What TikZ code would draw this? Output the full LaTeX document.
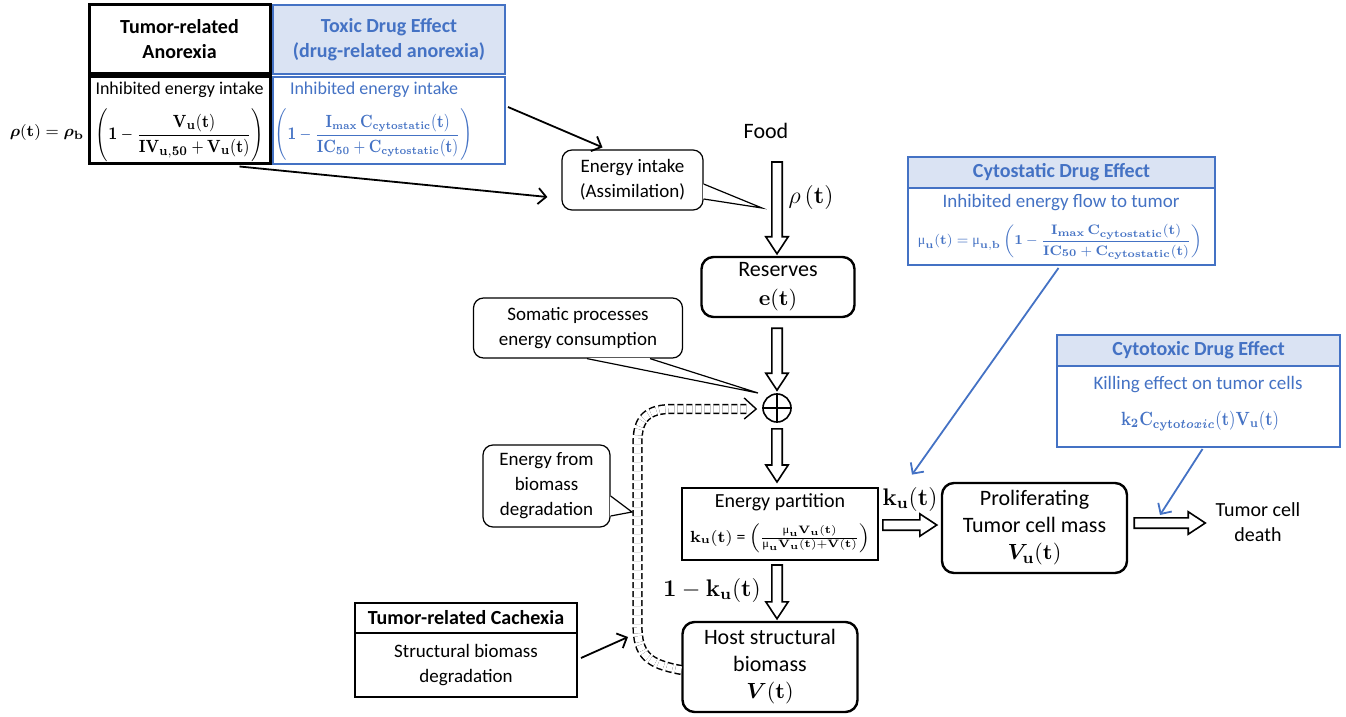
\documentclass[tikz,border=0pt]{standalone}
\usepackage{amsmath}
\usepackage{bm}
\usepackage{graphicx}
\usepackage[no-math]{fontspec}
\setmainfont{Carlito}
\newfontfamily\grk{Liberation Serif}
\usetikzlibrary{calc,arrows.meta}
\definecolor{ublue}{HTML}{4472C4}
\definecolor{hblue}{HTML}{DAE3F3}
\newcommand{\mymu}{\text{\grk μ}}
\begin{document}
\begin{tikzpicture}[x=0.5pt,y=-0.5pt,
  fs/.style={font=\fontsize{9}{12.5}\selectfont},
  fl/.style={font=\fontsize{11}{13.5}\selectfont},
  box/.style={draw, fill=white, inner sep=0pt, align=center},
  hdr/.style={box, font=\bfseries\fontsize{10}{12.5}\selectfont},
  bhdr/.style={hdr, draw=ublue, fill=hblue, text=ublue, line width=1pt},
  bbody/.style={box, draw=ublue, line width=1pt},
  bigbox/.style={box, rounded corners=6pt, line width=1.2pt, fl},
  callbox/.style={box, rounded corners=5pt, line width=0.6pt, font=\fontsize{9.5}{12.5}\selectfont},
  lbl/.style={inner sep=0pt, align=center},
  thinarrow/.style={line width=0.9pt, -{Straight Barb[length=4pt,width=8pt]}},
  bluearrow/.style={thinarrow, draw=ublue},
  blockarrow/.style={draw, fill=white, line width=0.8pt, line join=miter, to path={
    ($(\tikztostart)!2.6pt!90:(\tikztotarget)$)
    -- ($ ($(\tikztotarget)!8.5pt!(\tikztostart)$) !2.6pt!-90:(\tikztostart) $)
    -- ($ ($(\tikztotarget)!8.5pt!(\tikztostart)$) !5.6pt!-90:(\tikztostart) $)
    -- (\tikztotarget)
    -- ($ ($(\tikztotarget)!8.5pt!(\tikztostart)$) !5.6pt!90:(\tikztostart) $)
    -- ($ ($(\tikztotarget)!8.5pt!(\tikztostart)$) !2.6pt!90:(\tikztostart) $)
    -- ($(\tikztostart)!2.6pt!-90:(\tikztotarget)$)
    -- cycle}},
  dbl/.style={draw, double=white, double distance=3.6pt, line width=0.75pt, dash pattern=on 3pt off 1.5pt}
]
\useasboundingbox (0,0) rectangle (1346,717);

% ---------- top-left anorexia boxes ----------
\node[hdr, line width=1.5pt, minimum width=90.5pt, minimum height=34.5pt] (anhead) at (179.5,39.5) {Tumor-related\\Anorexia};
\node[box, line width=1.5pt, minimum width=90.5pt, minimum height=43.5pt] (anbody) at (179.5,120.5) {};
\node[lbl, fs] (aninh) at (179.5,90) {Inhibited energy intake};
\node[lbl, font=\fontsize{8}{10}\selectfont] (anform) at (180,135) {\resizebox*{84pt}{26.5pt}{$\Biggl(\mathbf{1} - \dfrac{\mathbf{V_u(t)}}{\mathbf{IV_{u,50} + V_u(t)}}\Biggr)$}};
\node[lbl, font=\fontsize{8.5}{10}\selectfont] (rho) at (47,133) {$\boldsymbol{\rho}\mathbf{(t)} = \boldsymbol{\rho}_{\mathbf{b}}$};

\node[bhdr, minimum width=116pt, minimum height=34.5pt] (txhead) at (389,39.5) {Toxic Drug Effect\\(drug-related anorexia)};
\node[bbody, minimum width=116pt, minimum height=43.5pt] (txbody) at (389,120.5) {};
\node[lbl, fs, text=ublue] (txinh) at (374,90) {Inhibited energy intake};
\node[lbl, font=\fontsize{7.8}{10}\selectfont, text=ublue] (txform) at (374,135) {\resizebox*{99pt}{26.5pt}{$\Biggl(\mathbf{1} - \dfrac{\mathbf{I_{max}\,C_{cytostatic}(t)}}{\mathbf{IC_{50} + C_{cytostatic}(t)}}\Biggr)$}};

% ---------- energy intake ----------
\node[callbox, minimum width=70.5pt, minimum height=30pt] (eint) at (632.5,180) {Energy intake\\(Assimilation)};
\coordinate (eintTip) at (762,208);
\coordinate (eintB1) at ($(eint.east)+(0,4)$);
\coordinate (eintB2) at ($(eint.east)+(0,19)$);
\draw[white, line width=1pt] (eintB1) -- (eintB2);
\draw[line width=0.6pt] (eintB1) -- (eintTip) -- (eintB2);

\coordinate (a1s) at ($(txbody.east)+(2,-13.5)$);
\coordinate (a1e) at ($(eint.north)+(-30,-2)$);
\draw[thinarrow] (a1s) -- (a1e);
\coordinate (a2s) at ($(anbody.south)+(60,1)$);
\coordinate (a2e) at ($(eint.west)+(-14,17)$);
\draw[thinarrow] (a2s) -- (a2e);

% ---------- food / reserves chain ----------
\node[lbl, font=\fontsize{11}{13}\selectfont] (food) at (766,131) {Food};
\node[bigbox, minimum width=76.5pt, minimum height=30pt] (res) at (778,287) {Reserves\\[1pt]$\mathbf{e(t)}$};
\node[lbl, font=\fontsize{12}{14}\selectfont] (rholbl) at (811,198) {$\rho\,\mathbf{(t)}$};
\coordinate (b1s) at (777,162);
\coordinate (b1e) at ($(res.north)+(-1,-2)$);
\path[blockarrow] (b1s) to (b1e);

\node[callbox, minimum width=104.5pt, minimum height=30pt] (soma) at (578,328) {Somatic processes\\energy consumption};
\coordinate (somaTip) at (758,393);
\coordinate (somaB1) at ($(soma.south)+(9,0)$);
\coordinate (somaB2) at ($(soma.south)+(72,0)$);
\draw[white, line width=1pt] (somaB1) -- (somaB2);
\draw[line width=0.6pt] (somaB1) -- (somaTip) -- (somaB2);

\node[circle, draw, line width=0.8pt, minimum size=14pt, inner sep=0pt] (op) at (777,408) {};
\draw[line width=0.8pt] (op.north) -- (op.south) (op.west) -- (op.east);
\coordinate (b2s) at ($(res.south)+(-1,10)$);
\coordinate (b2e) at ($(op.north)+(0,-3)$);
\path[blockarrow] (b2s) to (b2e);

\node[box, line width=0.8pt, minimum width=98pt, minimum height=36pt] (part) at (780,524) {};
\node[lbl, font=\fontsize{10}{12}\selectfont] (partt) at (780,502) {Energy partition};
\node[lbl, font=\fontsize{9.2}{11}\selectfont] (partf) at (780,538) {\resizebox*{90pt}{14.5pt}{$\mathbf{k_u(t)}$ = $\left(\tfrac{\mymu_{\mathbf u}\mathbf{V_u(t)}}{\mymu_{\mathbf u}\mathbf{V_u(t)}+\mathbf{V(t)}}\right)$}};
\coordinate (b3s) at ($(op.south)+(0,6)$);
\coordinate (b3e) at (777,482);
\path[blockarrow] (b3s) to (b3e);

\node[bigbox, minimum width=87.5pt, minimum height=45pt] (host) at (770,667) {Host structural\\biomass\\$\boldsymbol{V}\mathbf{(t)}$};
\coordinate (b4s) at (777,565);
\coordinate (b4e) at ($(host.north)+(7,-2)$);
\path[blockarrow] (b4s) to (b4e);
\node[lbl, font=\fontsize{12}{14}\selectfont] (omk) at (712,590) {$\mathbf{1 - k_u(t)}$};

% ---------- biomass degradation ----------
\node[callbox, minimum width=63.5pt, minimum height=41pt] (ebio) at (546.5,486) {Energy from\\biomass\\degradation};
\coordinate (ebioTip) at (632,512);
\coordinate (ebioB1) at ($(ebio.east)+(0,10)$);
\coordinate (ebioB2) at ($(ebio.east)+(0,30)$);
\draw[white, line width=1pt] (ebioB1) -- (ebioB2);
\draw[line width=0.6pt] (ebioB1) -- (ebioTip) -- (ebioB2);

\coordinate (dstart) at ($(host.west)+(0,3)$);
\coordinate (dend) at ($(op.west)+(-14,1)$);
\draw[dbl] (dstart) .. controls (648,664) and (637.5,655) .. (637.5,625) -- (637.5,442) .. controls (637.5,418) and (648,409) .. (672,409) -- (dend);
\draw[line width=0.7pt] ($(op.west)+(-18,-10)$) -- ($(op.west)+(-6,1)$) -- ($(op.west)+(-18,11)$);

\node[hdr, line width=1pt, minimum width=111pt, minimum height=15pt] (cachead) at (466,618) {Tumor-related Cachexia};
\node[box, line width=1pt, minimum width=111pt, minimum height=32pt, font=\fontsize{9.5}{12.5}\selectfont] (cacbody) at (466,665) {Structural biomass\\degradation};
\coordinate (c1s) at ($(cacbody.east)+(3,-7)$);
\coordinate (c1e) at (628,637);
\draw[thinarrow] (c1s) -- (c1e);

% ---------- tumor ----------
\node[bigbox, minimum width=92.5pt, minimum height=45pt] (prol) at (1034.5,528) {Proliferating\\Tumor cell mass\\$\boldsymbol{V}_{\mathbf u}\mathbf{(t)}$};
\coordinate (b5s) at ($(part.east)+(4,1)$);
\coordinate (b5e) at ($(prol.west)+(-4,-3)$);
\path[blockarrow] (b5s) to (b5e);
\node[lbl, font=\fontsize{12}{14}\selectfont] (kul) at (910,499) {$\mathbf{k_u(t)}$};

\node[lbl, font=\fontsize{10}{12.5}\selectfont] (death) at (1258,522) {Tumor cell\\death};
\coordinate (b6s) at ($(prol.east)+(6,-5)$);
\coordinate (b6e) at ($(death.west)+(-10,1)$);
\path[blockarrow] (b6s) to (b6e);

% ---------- cytostatic ----------
\node[bhdr, minimum width=153.5pt, minimum height=15.5pt] (csthead) at (1061.5,172.5) {Cytostatic Drug Effect};
\node[bbody, minimum width=153.5pt, minimum height=38.5pt] (cstbody) at (1061.5,226.5) {};
\node[lbl, font=\fontsize{9.5}{12.5}\selectfont, text=ublue] (cstinh) at (1061,203) {Inhibited energy flow to tumor};
\node[lbl, font=\fontsize{8}{10}\selectfont, text=ublue] (cstform) at (1060,242) {\resizebox*{142pt}{17.5pt}{$\mymu_{\mathbf u}\mathbf{(t)} = \mymu_{\mathbf{u,b}}\left(\mathbf{1} - \dfrac{\mathbf{I_{max}\,C_{cytostatic}(t)}}{\mathbf{IC_{50} + C_{cytostatic}(t)}}\right)$}};
\coordinate (e1s) at ($(cstbody.south)+(-3,2)$);
\coordinate (e1e) at ($(kul.north)+(2,-12)$);
\draw[bluearrow] (e1s) -- (e1e);

% ---------- cytotoxic ----------
\node[bhdr, minimum width=141.5pt, minimum height=15.5pt] (ctxhead) at (1198.5,350.5) {Cytotoxic Drug Effect};
\node[bbody, minimum width=141.5pt, minimum height=40.5pt] (ctxbody) at (1198.5,406.5) {};
\node[lbl, font=\fontsize{9.5}{12.5}\selectfont, text=ublue] (ctxinh) at (1198,385) {Killing effect on tumor cells};
\node[lbl, fs, text=ublue] (ctxform) at (1200,421) {\resizebox*{79pt}{10pt}{$\mathbf{k_2C}_{\mathbf{cyto}\boldsymbol{toxic}}\mathbf{(t)V_u(t)}$}};
\coordinate (e2s) at ($(ctxbody.south)+(4,1)$);
\coordinate (e2e) at (1160,515);
\draw[bluearrow] (e2s) -- (e2e);
\end{tikzpicture}
\end{document}
